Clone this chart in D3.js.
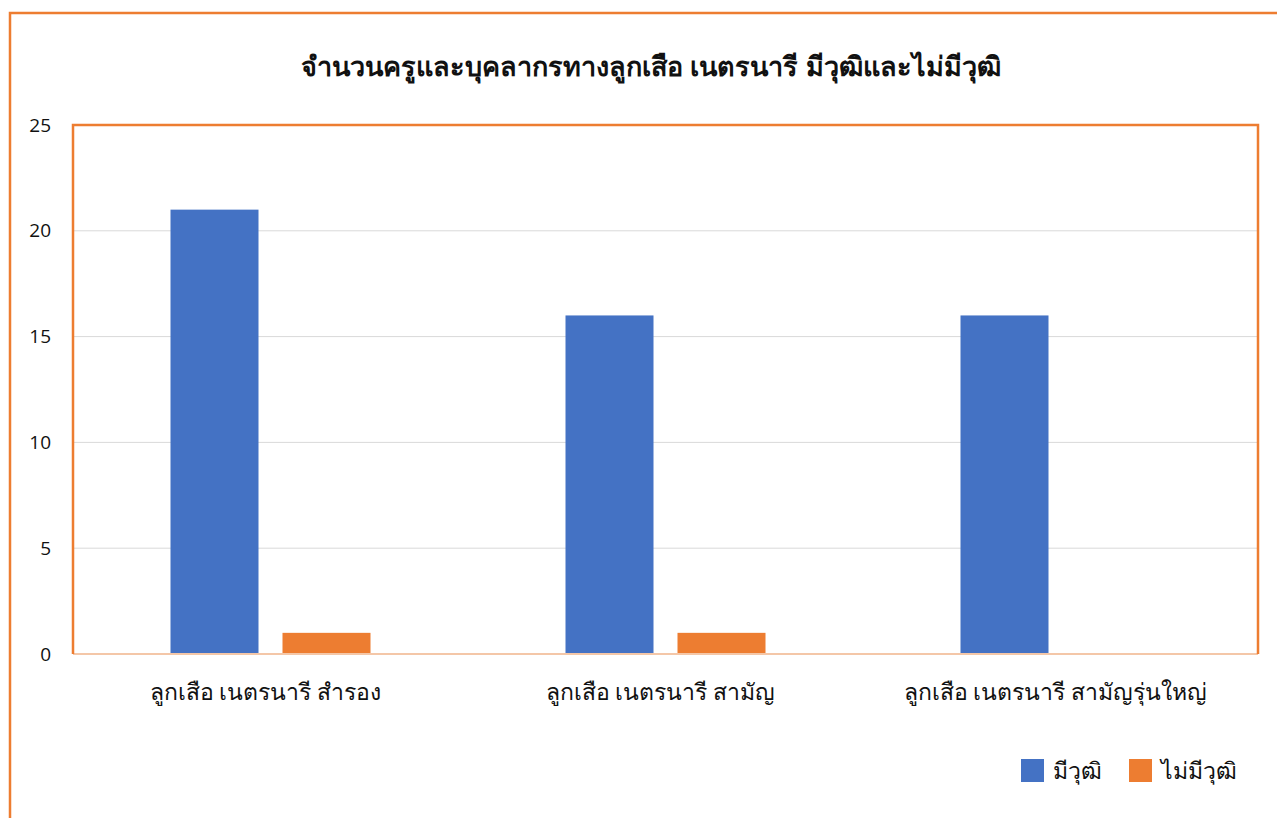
<!DOCTYPE html>
<html>
<head>
<meta charset="utf-8">
<script src="https://cdn.jsdelivr.net/npm/d3@7"></script>
<style>
  body { margin: 0; background: #fff; }
  text { font-family: "Noto Sans", "DejaVu Sans", sans-serif; }
</style>
</head>
<body>
<div id="chart"></div>
<script>
const categories = ["ลูกเสือ เนตรนารี สำรอง", "ลูกเสือ เนตรนารี สามัญ", "ลูกเสือ เนตรนารี สามัญรุ่นใหญ่"];
const seriesNames = ["มีวุฒิ", "ไม่มีวุฒิ"];
const qualified = [21, 16, 16];
const unqualified = [1, 1, 0];
const yTicks = [0, 5, 10, 15, 20, 25];
const colors = ["#4472c4", "#ed7d31"];
const title = "จำนวนครูและบุคลากรทางลูกเสือ เนตรนารี มีวุฒิและไม่มีวุฒิ";

const W = 1277, H = 818;
const plot = { left: 73, top: 125, right: 1258, bottom: 654 };

const svg = d3.select("#chart").append("svg")
  .attr("width", W)
  .attr("height", H);

// outer chart border
svg.append("rect")
  .attr("x", 10).attr("y", 13)
  .attr("width", W + 20).attr("height", H + 20)
  .attr("fill", "none")
  .attr("stroke", "#ed7d31")
  .attr("stroke-width", 2.5);

svg.append("text")
  .attr("x", 651).attr("y", 76)
  .attr("text-anchor", "middle")
  .style("font-family", "'Liberation Sans Narrow', 'Noto Sans', sans-serif")
  .style("font-size", "27px")
  .style("font-weight", "bold")
  .attr("fill", "#111")
  .text(title);

const x0 = d3.scaleBand()
  .domain(categories)
  .range([plot.left, plot.right]);

const x1 = d3.scaleBand()
  .domain(seriesNames)
  .range([0, 200])
  .paddingInner(24 / 112);

const y = d3.scaleLinear()
  .domain([0, 25])
  .range([plot.bottom, plot.top]);

// gridlines
svg.append("g")
  .selectAll("line")
  .data(yTicks.slice(1))
  .join("line")
  .attr("x1", plot.left).attr("x2", plot.right)
  .attr("y1", d => y(d)).attr("y2", d => y(d))
  .attr("stroke", "#d9d9d9")
  .attr("stroke-width", 1);

// y axis labels
const yAxis = d3.axisLeft(y).tickValues(yTicks).tickSize(0).tickPadding(0);
svg.append("g")
  .attr("transform", "translate(51,0)")
  .call(yAxis)
  .call(g => g.select(".domain").remove())
  .call(g => g.selectAll("text")
    .attr("fill", "#111")
    .style("font-size", "19px")
    .style("font-family", "'Open Sans', 'Noto Sans', sans-serif"));

// bars
const data = categories.map((c, i) => ({ cat: c, values: [qualified[i], unqualified[i]] }));
const groups = svg.append("g")
  .selectAll("g")
  .data(data)
  .join("g")
  .attr("transform", d => "translate(" + (x0(d.cat) + (x0.bandwidth() - 200) / 2) + ",0)");

groups.selectAll("rect")
  .data(d => d.values.map((v, j) => ({ name: seriesNames[j], v: v, j: j })))
  .join("rect")
  .attr("x", d => x1(d.name))
  .attr("width", x1.bandwidth())
  .attr("y", d => y(d.v))
  .attr("height", d => y(0) - y(d.v))
  .attr("fill", d => colors[d.j]);

// baseline
svg.append("line")
  .attr("x1", plot.left).attr("x2", plot.right)
  .attr("y1", plot.bottom).attr("y2", plot.bottom)
  .attr("stroke", "#f4c7a8")
  .attr("stroke-width", 2);

// plot frame
svg.append("path")
  .attr("d", "M" + plot.left + "," + plot.bottom + "V" + plot.top + "H" + plot.right + "V" + plot.bottom)
  .attr("fill", "none")
  .attr("stroke", "#ed7d31")
  .attr("stroke-width", 2.5);

// x axis labels
const xAxis = d3.axisBottom(x0).tickSize(0).tickPadding(0);
svg.append("g")
  .attr("transform", "translate(-5," + (plot.bottom + 30) + ")")
  .call(xAxis)
  .call(g => g.select(".domain").remove())
  .call(g => g.selectAll("text")
    .attr("fill", "#111")
    .attr("dy", "0.71em")
    .style("font-size", "23px"));

// legend
const legend = svg.append("g").attr("transform", "translate(1021,759)");
const legendX = [0, 108];
seriesNames.forEach((s, i) => {
  legend.append("rect")
    .attr("x", legendX[i]).attr("y", 0)
    .attr("width", 23).attr("height", 23)
    .attr("fill", colors[i]);
  legend.append("text")
    .attr("x", legendX[i] + 32).attr("y", 20)
    .style("font-size", "23px")
    .attr("fill", "#111")
    .text(s);
});
</script>
</body>
</html>
